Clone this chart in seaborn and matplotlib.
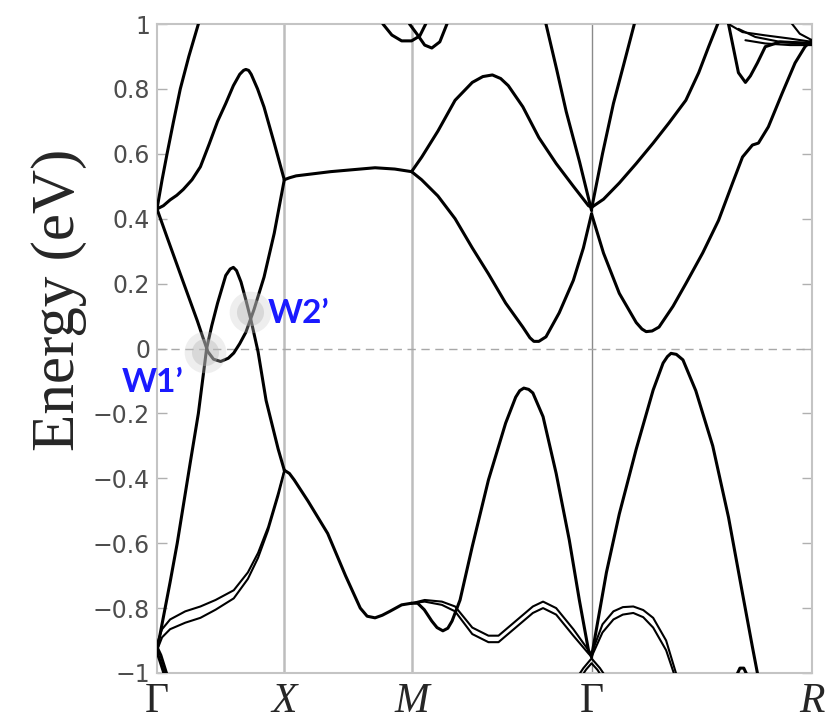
import matplotlib
matplotlib.use("Agg")
import matplotlib.pyplot as plt
import pandas as pd
import seaborn as sns

# --- high-symmetry path Γ-X-M-Γ-R (path length in units of pi/a) ---
kpath_pos = [0.0, 1.0, 2.0, 3.414, 5.146]
kpath_labels = ["Γ", "X", "M", "Γ", "R"]

ytick_pos = [-1, -0.8, -0.6, -0.4, -0.2, 0, 0.2, 0.4, 0.6, 0.8, 1]
ytick_labels = ["−1", "−0.8", "−0.6", "−0.4", "−0.2", "0", "0.2", "0.4", "0.6", "0.8", "1"]

# Weyl points marked on the plot
weyl_names = ["W1’", "W2’"]
weyl_k = [0.377, 0.73]
weyl_e = [-0.01, 0.112]

# --- bands: Γ-X ---
gx1_k = [0, 0.04, 0.079, 0.13, 0.183, 0.25, 0.325, 0.345]
gx1_e = [0.43, 0.52, 0.6, 0.70, 0.8, 0.9, 1.0, 1.03]
gx2_k = [0, 0.05, 0.103, 0.155, 0.206, 0.275, 0.341, 0.41, 0.476, 0.54, 0.6, 0.65, 0.68, 0.698, 0.72, 0.74, 0.79, 0.841, 0.921, 1.0]
gx2_e = [0.43, 0.44, 0.458, 0.472, 0.49, 0.52, 0.56, 0.63, 0.70, 0.755, 0.81, 0.845, 0.857, 0.86, 0.857, 0.845, 0.80, 0.744, 0.633, 0.52]
gx3_k = [0, 0.079, 0.206, 0.317, 0.36, 0.40, 0.444, 0.50, 0.56, 0.603, 0.65, 0.698, 0.762, 0.841, 0.921, 1.0]
gx3_e = [0.43, 0.343, 0.205, 0.085, 0.035, -0.01, -0.033, -0.04, -0.03, -0.014, 0.015, 0.05, 0.12, 0.22, 0.355, 0.52]
gx4_k = [0, 0.103, 0.159, 0.262, 0.325, 0.39, 0.43, 0.476, 0.54, 0.575, 0.6, 0.625, 0.66, 0.698, 0.738, 0.794, 0.857, 0.952, 1.0]
gx4_e = [-0.93, -0.72, -0.6, -0.35, -0.2, 0.0, 0.07, 0.14, 0.225, 0.245, 0.25, 0.24, 0.205, 0.15, 0.088, -0.01, -0.16, -0.31, -0.375]
gx5_k = [0, 0.04, 0.103, 0.222, 0.341, 0.46, 0.603, 0.714, 0.794, 0.873, 0.952, 1.0]
gx5_e = [-0.91, -0.865, -0.835, -0.81, -0.795, -0.775, -0.745, -0.69, -0.63, -0.55, -0.445, -0.375]
gx6_k = [0, 0.04, 0.103, 0.222, 0.341, 0.46, 0.603, 0.714, 0.794, 0.873, 0.952, 1.0]
gx6_e = [-0.93, -0.89, -0.865, -0.845, -0.83, -0.805, -0.77, -0.71, -0.645, -0.56, -0.455, -0.38]
gx7_k = [0, 0.03, 0.09]
gx7_e = [-0.92, -0.945, -1.02]
gx8_k = [0, 0.025, 0.07]
gx8_e = [-0.935, -0.965, -1.02]

# --- X-M ---
xm1_k = [1.0, 1.04, 1.093, 1.364, 1.713, 1.868, 2.0]
xm1_e = [0.52, 0.526, 0.532, 0.545, 0.557, 0.553, 0.545]
xm2_k = [1.0, 1.04, 1.078, 1.186, 1.341, 1.481, 1.597, 1.651, 1.713, 1.77, 1.829, 1.922, 2.0]
xm2_e = [-0.375, -0.385, -0.405, -0.47, -0.57, -0.70, -0.80, -0.825, -0.83, -0.822, -0.81, -0.79, -0.785]
loop1_k = [1.76, 1.775, 1.845, 1.922, 2.0, 2.064, 2.111, 2.12]
loop1_e = [1.02, 1.0, 0.966, 0.948, 0.948, 0.963, 1.0, 1.02]
loop2_k = [1.975, 1.984, 2.048, 2.103, 2.159, 2.222, 2.278, 2.285]
loop2_e = [1.02, 1.0, 0.966, 0.935, 0.926, 0.945, 1.0, 1.02]

# --- M-Γ ---
mg1_k = [2.0, 2.08, 2.207, 2.342, 2.477, 2.56, 2.635, 2.70, 2.76, 2.874, 3.0, 3.136, 3.271, 3.39, 3.414]
mg1_e = [0.545, 0.59, 0.67, 0.765, 0.82, 0.838, 0.843, 0.832, 0.81, 0.745, 0.65, 0.57, 0.50, 0.44, 0.435]
mg2_k = [2.0, 2.079, 2.207, 2.342, 2.477, 2.604, 2.739, 2.874, 2.93, 2.961, 3.0, 3.056, 3.16, 3.271, 3.35, 3.414]
mg2_e = [0.545, 0.52, 0.47, 0.40, 0.31, 0.23, 0.14, 0.066, 0.033, 0.022, 0.022, 0.036, 0.11, 0.21, 0.31, 0.415]
mg3_k = [3.04, 3.056, 3.14, 3.215, 3.32, 3.414]
mg3_e = [1.03, 1.0, 0.86, 0.73, 0.575, 0.425]
mg4_k = [2.0, 2.048, 2.10, 2.159, 2.2, 2.246, 2.285, 2.318, 2.381, 2.477, 2.604, 2.739, 2.818, 2.85, 2.882, 2.92, 2.953, 3.033, 3.136, 3.239, 3.318, 3.39, 3.414]
mg4_e = [-0.785, -0.785, -0.805, -0.84, -0.86, -0.87, -0.862, -0.84, -0.775, -0.61, -0.405, -0.23, -0.15, -0.13, -0.122, -0.126, -0.137, -0.21, -0.385, -0.59, -0.775, -0.93, -0.95]
mg5_k = [2.0, 2.103, 2.238, 2.342, 2.477, 2.604, 2.683, 2.818, 2.953, 3.033, 3.136, 3.271, 3.39, 3.414]
mg5_e = [-0.785, -0.775, -0.78, -0.795, -0.86, -0.885, -0.885, -0.84, -0.795, -0.78, -0.80, -0.865, -0.93, -0.945]
mg6_k = [2.0, 2.103, 2.238, 2.342, 2.477, 2.604, 2.683, 2.818, 2.953, 3.033, 3.136, 3.271, 3.39, 3.414]
mg6_e = [-0.785, -0.78, -0.79, -0.81, -0.88, -0.905, -0.905, -0.86, -0.815, -0.80, -0.82, -0.885, -0.94, -0.95]
arc1_k = [3.29, 3.35, 3.414, 3.48, 3.54]
arc1_e = [-1.02, -0.985, -0.955, -0.985, -1.02]
arc2_k = [3.32, 3.37, 3.414, 3.46, 3.51]
arc2_e = [-1.02, -0.99, -0.97, -0.99, -1.02]

# --- Γ-R ---
gr1_k = [3.414, 3.508, 3.632, 3.765, 3.898, 4.022, 4.155, 4.256, 4.334, 4.405, 4.43]
gr1_e = [0.435, 0.46, 0.51, 0.57, 0.633, 0.695, 0.765, 0.85, 0.93, 1.0, 1.03]
gr2_k = [3.414, 3.5, 3.586, 3.67, 3.75, 3.77]
gr2_e = [0.43, 0.6, 0.755, 0.88, 1.0, 1.03]
gr3_k = [3.414, 3.508, 3.632, 3.765, 3.81, 3.843, 3.89, 3.944, 4.054, 4.155, 4.288, 4.412, 4.522, 4.6, 4.678, 4.725, 4.803, 4.912, 5.013, 5.091, 5.146]
gr3_e = [0.415, 0.294, 0.17, 0.08, 0.06, 0.052, 0.054, 0.066, 0.13, 0.20, 0.295, 0.395, 0.51, 0.59, 0.627, 0.633, 0.683, 0.787, 0.88, 0.93, 0.95]
gr4_k = [4.48, 4.49, 4.568, 4.623, 4.662, 4.717, 4.779, 4.896, 5.146]
gr4_e = [1.02, 1.0, 0.85, 0.82, 0.84, 0.88, 0.93, 0.945, 0.94]
r1_k = [4.49, 4.6, 4.779, 4.974, 5.146]
r1_e = [1.0, 0.975, 0.965, 0.955, 0.945]
r2_k = [4.568, 4.701, 4.896, 5.146]
r2_e = [0.985, 0.96, 0.945, 0.94]
r3_k = [4.623, 4.779, 4.974, 5.146]
r3_e = [0.95, 0.94, 0.935, 0.935]
r4_k = [4.95, 5.05, 5.146]
r4_e = [1.02, 0.97, 0.95]
gr5_k = [3.414, 3.531, 3.632, 3.765, 3.898, 3.976, 4.01, 4.038, 4.08, 4.132, 4.233, 4.366, 4.49, 4.6, 4.678, 4.717, 4.73]
gr5_e = [-0.95, -0.69, -0.51, -0.31, -0.128, -0.045, -0.025, -0.015, -0.018, -0.035, -0.13, -0.30, -0.52, -0.755, -0.92, -1.0, -1.03]
gr6_k = [3.414, 3.5, 3.586, 3.66, 3.742, 3.82, 3.898, 4.0, 4.077, 4.09]
gr6_e = [-0.94, -0.85, -0.81, -0.797, -0.795, -0.806, -0.83, -0.9, -1.0, -1.02]
gr7_k = [3.414, 3.5, 3.586, 3.66, 3.742, 3.82, 3.898, 4.0, 4.06, 4.07]
gr7_e = [-0.95, -0.875, -0.835, -0.82, -0.815, -0.828, -0.86, -0.93, -1.0, -1.02]
blob_k = [4.55, 4.58, 4.61, 4.64]
blob_e = [-1.01, -0.985, -0.985, -1.01]

main_bands = {
    "gx1": (gx1_k, gx1_e), "gx2": (gx2_k, gx2_e), "gx3": (gx3_k, gx3_e),
    "gx4": (gx4_k, gx4_e), "gx7": (gx7_k, gx7_e), "gx8": (gx8_k, gx8_e),
    "xm1": (xm1_k, xm1_e), "xm2": (xm2_k, xm2_e),
    "loop1": (loop1_k, loop1_e), "loop2": (loop2_k, loop2_e),
    "mg1": (mg1_k, mg1_e), "mg2": (mg2_k, mg2_e), "mg3": (mg3_k, mg3_e),
    "mg4": (mg4_k, mg4_e),
    "gr1": (gr1_k, gr1_e), "gr2": (gr2_k, gr2_e), "gr3": (gr3_k, gr3_e),
    "gr4": (gr4_k, gr4_e), "gr5": (gr5_k, gr5_e), "blob": (blob_k, blob_e),
}
thin_bands = {
    "gx5": (gx5_k, gx5_e), "gx6": (gx6_k, gx6_e),
    "mg5": (mg5_k, mg5_e), "mg6": (mg6_k, mg6_e),
    "arc1": (arc1_k, arc1_e), "arc2": (arc2_k, arc2_e),
    "gr6": (gr6_k, gr6_e), "gr7": (gr7_k, gr7_e),
    "r1": (r1_k, r1_e), "r2": (r2_k, r2_e), "r3": (r3_k, r3_e), "r4": (r4_k, r4_e),
}


def to_frame(bands):
    parts = [pd.DataFrame({"k": k, "E": e, "band": name}) for name, (k, e) in bands.items()]
    return pd.concat(parts, ignore_index=True)


df_main = to_frame(main_bands)
df_thin = to_frame(thin_bands)

sns.set_style("white")
plt.rcParams["font.family"] = ["DejaVu Sans"]

fig = plt.figure(figsize=(8.25, 7.26), dpi=100)
ax = fig.add_axes([157 / 825, 53 / 726, 655 / 825, 649 / 726])

# high-symmetry lines and Fermi level
for kp, lab in zip(kpath_pos[1:-1], kpath_labels[1:-1]):
    if lab == "Γ":
        ax.axvline(kp, color="#8a8a8a", lw=1.0, zorder=1)
    else:
        ax.axvline(kp, color="#bdbdbd", lw=1.8, zorder=1)
ax.axhline(0, color="#a8a8a8", lw=1.0, ls=(0, (6, 4)), zorder=1)

sns.lineplot(data=df_main, x="k", y="E", units="band", estimator=None, sort=False,
             color="black", lw=2.2, ax=ax, zorder=3)
sns.lineplot(data=df_thin, x="k", y="E", units="band", estimator=None, sort=False,
             color="black", lw=1.5, ax=ax, zorder=3)

# soft grey glow on the Weyl points
ax.scatter(weyl_k, weyl_e, s=900, color="#c8c8c8", alpha=0.3, lw=0, zorder=4)
ax.scatter(weyl_k, weyl_e, s=380, color="#b8b8b8", alpha=0.4, lw=0, zorder=4)

ax.text(-0.275, -0.105, weyl_names[0], color="#1a1aff", fontsize=24, fontweight="bold",
        family=["Lato", "DejaVu Sans"], ha="left", va="center", clip_on=False, zorder=5)
ax.text(0.872, 0.109, weyl_names[1], color="#1a1aff", fontsize=24, fontweight="bold",
        family=["Lato", "DejaVu Sans"], ha="left", va="center", clip_on=False, zorder=5)

ax.set_xlim(kpath_pos[0], kpath_pos[-1])
ax.set_ylim(-1, 1)
ax.set_xticks(kpath_pos)
ax.set_xticklabels(kpath_labels)
for t in ax.get_xticklabels():
    t.set_fontfamily(["Liberation Serif", "DejaVu Serif"])
    t.set_fontsize(30)
    if t.get_text() != "Γ":
        t.set_fontstyle("italic")
ax.set_yticks(ytick_pos)
ax.set_yticklabels(ytick_labels)
ax.tick_params(axis="x", length=0, pad=7)
ax.tick_params(axis="y", direction="in", length=7, width=1, color="#b0b0b0",
               left=True, right=True, labelsize=17, labelcolor="#4d4d4d", pad=5)
ax.set_xlabel("")
ax.set_ylabel("")
for sp in ax.spines.values():
    sp.set_color("#c4c4c4")
    sp.set_linewidth(1.5)

fig.text(0.072, 0.587, "Energy (eV)", rotation=90, ha="center", va="center",
         fontsize=44, family=["Liberation Serif", "DejaVu Serif"])

fig.savefig("out.png", dpi=100)
